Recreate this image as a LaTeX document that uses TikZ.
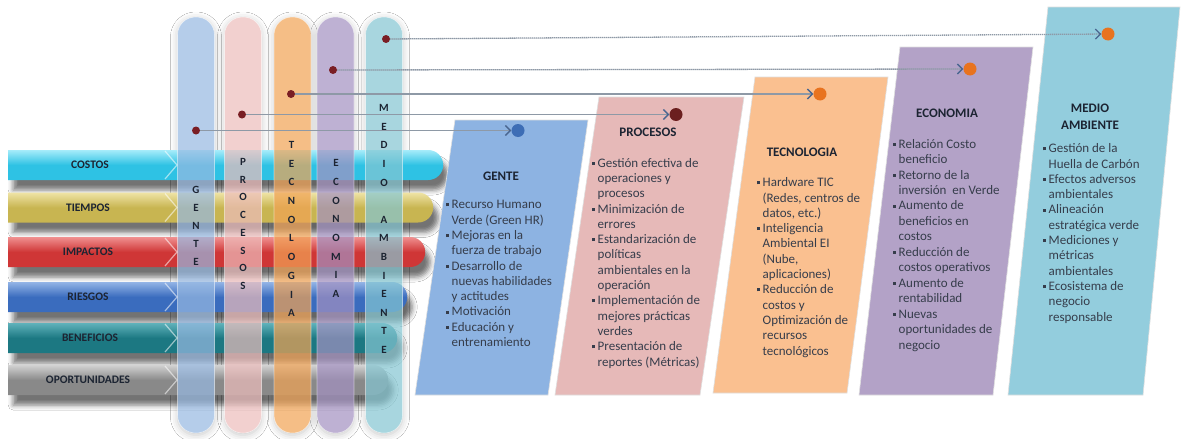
\documentclass[tikz,border=0pt]{standalone}
\usepackage{fontspec}
\setmainfont{Carlito}
\usetikzlibrary{shapes.misc,arrows.meta,shadows.blur}

\definecolor{txtC}{HTML}{363D4B}
\definecolor{ttlC}{HTML}{1C2432}
\definecolor{dotC}{HTML}{7A1E24}
\definecolor{lineC}{HTML}{8E99A6}
\definecolor{arrC}{HTML}{4A6690}
\definecolor{blueC}{HTML}{3D6DB5}
\definecolor{maroonC}{HTML}{6B1F1F}
\definecolor{orangeC}{HTML}{E8731F}
% bars
\definecolor{costL}{HTML}{A6ECFA}\definecolor{costB}{HTML}{2EC2E4}
\definecolor{tiemL}{HTML}{EFE4A6}\definecolor{tiemB}{HTML}{C8B551}
\definecolor{impL}{HTML}{F09090}\definecolor{impB}{HTML}{CF3636}
\definecolor{riesL}{HTML}{93B4E6}\definecolor{riesB}{HTML}{3A6CBE}
\definecolor{beneL}{HTML}{5FB2BB}\definecolor{beneB}{HTML}{1C7882}
\definecolor{oporL}{HTML}{D2D2D2}\definecolor{oporB}{HTML}{898989}
% pills
\definecolor{gentP}{HTML}{97B9E2}
\definecolor{procP}{HTML}{EDBDBC}
\definecolor{tecnP}{HTML}{F2A354}
\definecolor{econP}{HTML}{A391C1}
\definecolor{medP}{HTML}{84C6D2}
% boxes
\definecolor{gentB}{HTML}{8DB3E2}
\definecolor{procB}{HTML}{E6B9B8}
\definecolor{tecnB}{HTML}{FAC090}
\definecolor{econB}{HTML}{B3A2C7}
\definecolor{medB}{HTML}{93CDDD}

\newcommand{\blt}{\makebox[5.5pt][l]{\rule[2.4pt]{3pt}{3pt}}}
\newcommand{\bln}{\hspace*{5.5pt}}

\begin{document}
\begin{tikzpicture}[x=1pt,y=-1pt,
  bar/.style={rounded rectangle, rounded rectangle left arc=none, minimum height=30pt,
     inner sep=0pt, anchor=west,
     blur shadow={shadow xshift=5pt, shadow yshift=-10pt, shadow opacity=55, shadow blur radius=5pt}},
  barlab/.style={font=\bfseries\fontsize{11.5}{13}\selectfont, text=ttlC, inner sep=0pt},
  pillbase/.style={rectangle, rounded corners=18pt, minimum width=37pt, minimum height=416pt, inner sep=0pt},
  halo/.style={pillbase, fill=white,
     blur shadow={shadow xshift=0pt, shadow yshift=-2pt, shadow opacity=22, shadow blur radius=7pt}},
  pill/.style={pillbase, fill opacity=0.7, draw=white, draw opacity=0.5, line width=0.6pt},
  pillt/.style={align=center, inner sep=0pt, text=ttlC},
  dot/.style={circle, fill=dotC, inner sep=0pt, minimum size=8pt},
  endc/.style={circle, inner sep=0pt, minimum size=13pt},
  conn/.style={draw=lineC, line width=1.3pt, dash pattern=on 1.3pt off 0.7pt,
     -{Straight Barb[length=5pt, width=10pt, color=arrC, line width=1.3pt]}},
  pg/.style={draw=white!75!gray, line width=0.6pt},
  ttl/.style={font=\bfseries\fontsize{13}{17}\selectfont, text=ttlC, align=center, inner sep=0pt},
  body/.style={font=\fontsize{13}{15.3}\selectfont, text=txtC, align=left, inner sep=0pt, anchor=base west},
  chev/.style={draw=white, draw opacity=0.55, line width=1.2pt}
]
\useasboundingbox (0,0) rectangle (1181,439);
\fill[white] (0,0) rectangle (1181,439);

% ---------- pill halos (soft gray glow behind the pills) ----------
\node[halo] (sgen) at (196,225) {};
\node[halo] (spro) at (243,225) {};
\node[halo] (stec) at (292.5,225) {};
\node[halo] (seco) at (335.5,225) {};
\node[halo] (smed) at (384,225) {};

% ---------- horizontal bars ----------
\node[bar, top color=costL, bottom color=costB, middle color=costB, minimum width=435pt] (bcost) at (8,165) {};
\node[bar, top color=tiemL, bottom color=tiemB, middle color=tiemB, minimum width=425pt] (btiem) at (8,207.5) {};
\node[bar, top color=impL, bottom color=impB, middle color=impB, minimum width=417pt] (bimp) at (8,252) {};
\node[bar, top color=riesL, bottom color=riesB, middle color=riesB, minimum width=399pt] (bries) at (8,297) {};
\node[bar, top color=beneL, bottom color=beneB, middle color=beneB, minimum width=389pt] (bbene) at (8,338) {};
\node[bar, top color=oporL, bottom color=oporB, middle color=oporB, minimum width=380pt] (bopor) at (8,380) {};

\foreach \yc in {165,207.5,252,297,338,380}{
  \draw[chev] (165,\yc-14) -- (177,\yc) -- (165,\yc+14);
}

\node[barlab] (lcost) at (90,165) {COSTOS};
\node[barlab] (ltiem) at (88,207.5) {TIEMPOS};
\node[barlab] (limp) at (88,252) {IMPACTOS};
\node[barlab] (lries) at (88,297) {RIESGOS};
\node[barlab] (lbene) at (90,338) {BENEFICIOS};
\node[barlab] (lopor) at (88,380) {OPORTUNIDADES};

% ---------- vertical pills ----------
\node[pill, fill=gentP] (pgen) at (196,225) {};
\node[pill, fill=procP] (ppro) at (243,225) {};
\node[pill, fill=tecnP] (ptec) at (292.5,225) {};
\node[pill, fill=econP] (peco) at (335.5,225) {};
\node[pill, fill=medP] (pmed) at (384,225) {};

\node[pillt, font=\bfseries\fontsize{11}{18}\selectfont] (tgen) at (196,226) {G\\E\\N\\T\\E};
\node[pillt, font=\bfseries\fontsize{11}{17.7}\selectfont] (tpro) at (243,224) {P\\R\\O\\C\\E\\S\\O\\S};
\node[pillt, font=\bfseries\fontsize{11}{18.7}\selectfont] (ttec) at (291.5,229) {T\\E\\C\\N\\O\\L\\O\\G\\I\\A};
\node[pillt, font=\bfseries\fontsize{11}{18.7}\selectfont] (teco) at (336,228.5) {E\\C\\O\\N\\O\\M\\I\\A};
\node[pillt, font=\bfseries\fontsize{11}{18.6}\selectfont] (tmed) at (384,229) {M\\E\\D\\I\\O\\ \\A\\M\\B\\I\\E\\N\\T\\E};

% ---------- parallelograms ----------
\path[pg, fill=gentB] (455,120) -- (588,120) -- (548,395) -- (415,395) -- cycle;
\path[pg, fill=procB] (599,97) -- (744,97) -- (700,395) -- (555,395) -- cycle;
\path[pg, fill=tecnB] (755,77) -- (888,77) -- (847,393) -- (713,393) -- cycle;
\path[pg, fill=econB] (900,47) -- (1033,47) -- (993,395) -- (859,395) -- cycle;
\path[pg, fill=medB] (1048,7) -- (1180,7) -- (1143,395) -- (1008,395) -- cycle;

% titles
\node[ttl] (hgen) at (501,176) {GENTE};
\node[ttl] (hpro) at (648,132) {PROCESOS};
\node[ttl] (htec) at (802,152) {TECNOLOGIA};
\node[ttl] (heco) at (947,113) {ECONOMIA};
\node[ttl] (hmed) at (1090,116.5) {MEDIO\\AMBIENTE};

% bodies (anchored at the baseline of the last line)
\node[body] (xgen) at (446,346.5) {\blt Recurso Humano\\\bln Verde (Green HR)\\\blt Mejoras en la\\\bln fuerza de trabajo\\\blt Desarrollo de\\\bln nuevas habilidades\\\bln y actitudes\\\blt Motivación\\\blt Educación y\\\bln entrenamiento};
\node[body] (xpro) at (592,366) {\blt Gestión efectiva de\\\bln operaciones y\\\bln procesos\\\blt Minimización de\\\bln errores\\\blt Estandarización de\\\bln políticas\\\bln ambientales en la\\\bln operación\\\blt Implementación de\\\bln mejores prácticas\\\bln verdes\\\blt Presentación de\\\bln reportes (Métricas)};
\node[body] (xtec) at (757,355) {\blt Hardware TIC\\\bln (Redes, centros de\\\bln datos, etc.)\\\blt Inteligencia\\\bln Ambiental EI\\\bln (Nube,\\\bln aplicaciones)\\\blt Reducción de\\\bln costos y\\\bln Optimización de\\\bln recursos\\\bln tecnológicos};
\node[body, font=\fontsize{13}{15.45}\selectfont] (xeco) at (893,349) {\blt Relación Costo\\\bln beneficio\\\blt Retorno de la\\\bln inversión \ en Verde\\\blt Aumento de\\\bln beneficios en\\\bln costos\\\blt Reducción de\\\bln costos operativos\\\blt Aumento de\\\bln rentabilidad\\\blt Nuevas\\\bln oportunidades de\\\bln negocio};
\node[body] (xmed) at (1043,321) {\blt Gestión de la\\\bln Huella de Carbón\\\blt Efectos adversos\\\bln ambientales\\\blt Alineación\\\bln estratégica verde\\\blt Mediciones y\\\bln métricas\\\bln ambientales\\\blt Ecosistema de\\\bln negocio\\\bln responsable};

% ---------- dots, end circles, connectors ----------
\node[dot] (dgen) at (196,130.5) {};
\node[dot] (dpro) at (242,114.5) {};
\node[dot] (dtec) at (291,94) {};
\node[dot] (deco) at (333,70) {};
\node[dot] (dmed) at (386,39) {};

\node[endc, fill=blueC] (cgen) at (518,130.5) {};
\node[endc, fill=maroonC] (cpro) at (676,114.5) {};
\node[endc, fill=orangeC] (ctec) at (820,94) {};
\node[endc, fill=orangeC] (ceco) at (970,69) {};
\node[endc, fill=orangeC] (cmed) at (1108,34) {};

\draw[conn] (dgen) -- (cgen);
\draw[conn] (dpro) -- (cpro);
\draw[conn] (dtec) -- (ctec);
\draw[conn] (deco) -- (ceco);
\draw[conn] (dmed) -- (cmed);
\end{tikzpicture}
\end{document}
